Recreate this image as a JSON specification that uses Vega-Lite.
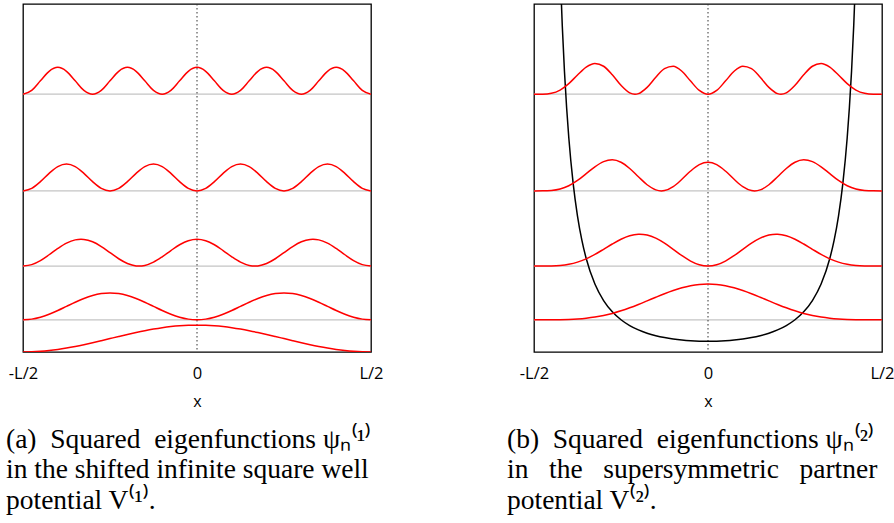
{
  "$schema": "https://vega.github.io/schema/vega-lite/v6.json",
  "background": "white",
  "padding": {"left": 5, "top": 2, "right": 0, "bottom": 0},
  "bounds": "flush",
  "spacing": 163,
  "config": {
    "view": {"stroke": "black", "strokeWidth": 1.3},
    "axis": {"labelFont": "Open Sans", "titleFont": "Open Sans", "labelColor": "black", "titleColor": "black"}
  },
  "datasets": {
    "levels": [{"e": 3}, {"e": 8}, {"e": 15}, {"e": 24}],
    "zero": [{"x0": 0}],
    "well": [
      {"x":-0.5,"y":0,"n":1},{"x":-0.475,"y":0.0154,"n":1},{"x":-0.45,"y":0.0612,"n":1},{"x":-0.425,"y":0.1362,"n":1},{"x":-0.4,"y":0.2387,"n":1},{"x":-0.375,"y":0.3661,"n":1},{"x":-0.35,"y":0.5153,"n":1},{"x":-0.325,"y":0.6825,"n":1},{"x":-0.3,"y":0.8637,"n":1},{"x":-0.275,"y":1.0545,"n":1},{"x":-0.25,"y":1.25,"n":1},{"x":-0.225,"y":1.4455,"n":1},{"x":-0.2,"y":1.6363,"n":1},{"x":-0.175,"y":1.8175,"n":1},{"x":-0.15,"y":1.9847,"n":1},{"x":-0.125,"y":2.1339,"n":1},{"x":-0.1,"y":2.2613,"n":1},{"x":-0.075,"y":2.3638,"n":1},{"x":-0.05,"y":2.4388,"n":1},{"x":-0.025,"y":2.4846,"n":1},{"x":0,"y":2.5,"n":1},
      {"x":0.025,"y":2.4846,"n":1},{"x":0.05,"y":2.4388,"n":1},{"x":0.075,"y":2.3638,"n":1},{"x":0.1,"y":2.2613,"n":1},{"x":0.125,"y":2.1339,"n":1},{"x":0.15,"y":1.9847,"n":1},{"x":0.175,"y":1.8175,"n":1},{"x":0.2,"y":1.6363,"n":1},{"x":0.225,"y":1.4455,"n":1},{"x":0.25,"y":1.25,"n":1},{"x":0.275,"y":1.0545,"n":1},{"x":0.3,"y":0.8637,"n":1},{"x":0.325,"y":0.6825,"n":1},{"x":0.35,"y":0.5153,"n":1},{"x":0.375,"y":0.3661,"n":1},{"x":0.4,"y":0.2387,"n":1},{"x":0.425,"y":0.1362,"n":1},{"x":0.45,"y":0.0612,"n":1},{"x":0.475,"y":0.0154,"n":1},{"x":0.5,"y":0,"n":1},

      {"x":-0.5,"y":3,"n":2},{"x":-0.475,"y":3.0612,"n":2},{"x":-0.45,"y":3.2387,"n":2},{"x":-0.425,"y":3.5153,"n":2},{"x":-0.4,"y":3.8637,"n":2},{"x":-0.375,"y":4.25,"n":2},{"x":-0.35,"y":4.6363,"n":2},{"x":-0.325,"y":4.9847,"n":2},{"x":-0.3,"y":5.2613,"n":2},{"x":-0.275,"y":5.4388,"n":2},{"x":-0.25,"y":5.5,"n":2},{"x":-0.225,"y":5.4388,"n":2},{"x":-0.2,"y":5.2613,"n":2},{"x":-0.175,"y":4.9847,"n":2},{"x":-0.15,"y":4.6363,"n":2},{"x":-0.125,"y":4.25,"n":2},{"x":-0.1,"y":3.8637,"n":2},{"x":-0.075,"y":3.5153,"n":2},{"x":-0.05,"y":3.2387,"n":2},{"x":-0.025,"y":3.0612,"n":2},{"x":0,"y":3,"n":2},
      {"x":0.025,"y":3.0612,"n":2},{"x":0.05,"y":3.2387,"n":2},{"x":0.075,"y":3.5153,"n":2},{"x":0.1,"y":3.8637,"n":2},{"x":0.125,"y":4.25,"n":2},{"x":0.15,"y":4.6363,"n":2},{"x":0.175,"y":4.9847,"n":2},{"x":0.2,"y":5.2613,"n":2},{"x":0.225,"y":5.4388,"n":2},{"x":0.25,"y":5.5,"n":2},{"x":0.275,"y":5.4388,"n":2},{"x":0.3,"y":5.2613,"n":2},{"x":0.325,"y":4.9847,"n":2},{"x":0.35,"y":4.6363,"n":2},{"x":0.375,"y":4.25,"n":2},{"x":0.4,"y":3.8637,"n":2},{"x":0.425,"y":3.5153,"n":2},{"x":0.45,"y":3.2387,"n":2},{"x":0.475,"y":3.0612,"n":2},{"x":0.5,"y":3,"n":2},

      {"x":-0.5,"y":8,"n":3},{"x":-0.475,"y":8.1362,"n":3},{"x":-0.45,"y":8.5153,"n":3},{"x":-0.425,"y":9.0545,"n":3},{"x":-0.4,"y":9.6363,"n":3},{"x":-0.375,"y":10.1339,"n":3},{"x":-0.35,"y":10.4388,"n":3},{"x":-0.33333,"y":10.5,"n":3},{"x":-0.325,"y":10.4846,"n":3},{"x":-0.3,"y":10.2613,"n":3},{"x":-0.275,"y":9.8175,"n":3},{"x":-0.25,"y":9.25,"n":3},{"x":-0.225,"y":8.6825,"n":3},{"x":-0.2,"y":8.2387,"n":3},{"x":-0.175,"y":8.0154,"n":3},{"x":-0.16667,"y":8,"n":3},{"x":-0.15,"y":8.0612,"n":3},{"x":-0.125,"y":8.3661,"n":3},{"x":-0.1,"y":8.8637,"n":3},{"x":-0.075,"y":9.4455,"n":3},{"x":-0.05,"y":9.9847,"n":3},{"x":-0.025,"y":10.3638,"n":3},{"x":0,"y":10.5,"n":3},
      {"x":0.025,"y":10.3638,"n":3},{"x":0.05,"y":9.9847,"n":3},{"x":0.075,"y":9.4455,"n":3},{"x":0.1,"y":8.8637,"n":3},{"x":0.125,"y":8.3661,"n":3},{"x":0.15,"y":8.0612,"n":3},{"x":0.16667,"y":8,"n":3},{"x":0.175,"y":8.0154,"n":3},{"x":0.2,"y":8.2387,"n":3},{"x":0.225,"y":8.6825,"n":3},{"x":0.25,"y":9.25,"n":3},{"x":0.275,"y":9.8175,"n":3},{"x":0.3,"y":10.2613,"n":3},{"x":0.325,"y":10.4846,"n":3},{"x":0.33333,"y":10.5,"n":3},{"x":0.35,"y":10.4388,"n":3},{"x":0.375,"y":10.1339,"n":3},{"x":0.4,"y":9.6363,"n":3},{"x":0.425,"y":9.0545,"n":3},{"x":0.45,"y":8.5153,"n":3},{"x":0.475,"y":8.1362,"n":3},{"x":0.5,"y":8,"n":3},

      {"x":-0.5,"y":15,"n":4},{"x":-0.475,"y":15.2387,"n":4},{"x":-0.45,"y":15.8637,"n":4},{"x":-0.425,"y":16.6363,"n":4},{"x":-0.4,"y":17.2613,"n":4},{"x":-0.375,"y":17.5,"n":4},{"x":-0.35,"y":17.2613,"n":4},{"x":-0.325,"y":16.6363,"n":4},{"x":-0.3,"y":15.8637,"n":4},{"x":-0.275,"y":15.2387,"n":4},{"x":-0.25,"y":15,"n":4},{"x":-0.225,"y":15.2387,"n":4},{"x":-0.2,"y":15.8637,"n":4},{"x":-0.175,"y":16.6363,"n":4},{"x":-0.15,"y":17.2613,"n":4},{"x":-0.125,"y":17.5,"n":4},{"x":-0.1,"y":17.2613,"n":4},{"x":-0.075,"y":16.6363,"n":4},{"x":-0.05,"y":15.8637,"n":4},{"x":-0.025,"y":15.2387,"n":4},{"x":0,"y":15,"n":4},
      {"x":0.025,"y":15.2387,"n":4},{"x":0.05,"y":15.8637,"n":4},{"x":0.075,"y":16.6363,"n":4},{"x":0.1,"y":17.2613,"n":4},{"x":0.125,"y":17.5,"n":4},{"x":0.15,"y":17.2613,"n":4},{"x":0.175,"y":16.6363,"n":4},{"x":0.2,"y":15.8637,"n":4},{"x":0.225,"y":15.2387,"n":4},{"x":0.25,"y":15,"n":4},{"x":0.275,"y":15.2387,"n":4},{"x":0.3,"y":15.8637,"n":4},{"x":0.325,"y":16.6363,"n":4},{"x":0.35,"y":17.2613,"n":4},{"x":0.375,"y":17.5,"n":4},{"x":0.4,"y":17.2613,"n":4},{"x":0.425,"y":16.6363,"n":4},{"x":0.45,"y":15.8637,"n":4},{"x":0.475,"y":15.2387,"n":4},{"x":0.5,"y":15,"n":4},

      {"x":-0.5,"y":24,"n":5},{"x":-0.475,"y":24.3661,"n":5},{"x":-0.45,"y":25.25,"n":5},{"x":-0.425,"y":26.1339,"n":5},{"x":-0.4,"y":26.5,"n":5},{"x":-0.375,"y":26.1339,"n":5},{"x":-0.35,"y":25.25,"n":5},{"x":-0.325,"y":24.3661,"n":5},{"x":-0.3,"y":24,"n":5},{"x":-0.275,"y":24.3661,"n":5},{"x":-0.25,"y":25.25,"n":5},{"x":-0.225,"y":26.1339,"n":5},{"x":-0.2,"y":26.5,"n":5},{"x":-0.175,"y":26.1339,"n":5},{"x":-0.15,"y":25.25,"n":5},{"x":-0.125,"y":24.3661,"n":5},{"x":-0.1,"y":24,"n":5},{"x":-0.075,"y":24.3661,"n":5},{"x":-0.05,"y":25.25,"n":5},{"x":-0.025,"y":26.1339,"n":5},{"x":0,"y":26.5,"n":5},
      {"x":0.025,"y":26.1339,"n":5},{"x":0.05,"y":25.25,"n":5},{"x":0.075,"y":24.3661,"n":5},{"x":0.1,"y":24,"n":5},{"x":0.125,"y":24.3661,"n":5},{"x":0.15,"y":25.25,"n":5},{"x":0.175,"y":26.1339,"n":5},{"x":0.2,"y":26.5,"n":5},{"x":0.225,"y":26.1339,"n":5},{"x":0.25,"y":25.25,"n":5},{"x":0.275,"y":24.3661,"n":5},{"x":0.3,"y":24,"n":5},{"x":0.325,"y":24.3661,"n":5},{"x":0.35,"y":25.25,"n":5},{"x":0.375,"y":26.1339,"n":5},{"x":0.4,"y":26.5,"n":5},{"x":0.425,"y":26.1339,"n":5},{"x":0.45,"y":25.25,"n":5},{"x":0.475,"y":24.3661,"n":5},{"x":0.5,"y":24,"n":5}
    ],
    "partner": [
      {"x":-0.5,"y":3,"n":1},{"x":-0.475,"y":3.0001,"n":1},{"x":-0.45,"y":3.002,"n":1},{"x":-0.425,"y":3.0099,"n":1},{"x":-0.4,"y":3.0304,"n":1},{"x":-0.375,"y":3.0715,"n":1},{"x":-0.35,"y":3.1416,"n":1},{"x":-0.325,"y":3.2484,"n":1},{"x":-0.3,"y":3.3979,"n":1},{"x":-0.275,"y":3.593,"n":1},{"x":-0.25,"y":3.8333,"n":1},{"x":-0.225,"y":4.1145,"n":1},{"x":-0.2,"y":4.4279,"n":1},{"x":-0.175,"y":4.7617,"n":1},{"x":-0.15,"y":5.1009,"n":1},{"x":-0.125,"y":5.4285,"n":1},{"x":-0.1,"y":5.7271,"n":1},{"x":-0.075,"y":5.9799,"n":1},{"x":-0.05,"y":6.1722,"n":1},{"x":-0.025,"y":6.2924,"n":1},{"x":0,"y":6.3333,"n":1},
      {"x":0.025,"y":6.2924,"n":1},{"x":0.05,"y":6.1722,"n":1},{"x":0.075,"y":5.9799,"n":1},{"x":0.1,"y":5.7271,"n":1},{"x":0.125,"y":5.4285,"n":1},{"x":0.15,"y":5.1009,"n":1},{"x":0.175,"y":4.7617,"n":1},{"x":0.2,"y":4.4279,"n":1},{"x":0.225,"y":4.1145,"n":1},{"x":0.25,"y":3.8333,"n":1},{"x":0.275,"y":3.593,"n":1},{"x":0.3,"y":3.3979,"n":1},{"x":0.325,"y":3.2484,"n":1},{"x":0.35,"y":3.1416,"n":1},{"x":0.375,"y":3.0715,"n":1},{"x":0.4,"y":3.0304,"n":1},{"x":0.425,"y":3.0099,"n":1},{"x":0.45,"y":3.002,"n":1},{"x":0.475,"y":3.0001,"n":1},{"x":0.5,"y":3,"n":1},

      {"x":-0.5,"y":8,"n":2},{"x":-0.475,"y":8.0008,"n":2},{"x":-0.45,"y":8.0117,"n":2},{"x":-0.425,"y":8.0562,"n":2},{"x":-0.4,"y":8.165,"n":2},{"x":-0.375,"y":8.3661,"n":2},{"x":-0.35,"y":8.6745,"n":2},{"x":-0.325,"y":9.0837,"n":2},{"x":-0.3,"y":9.5625,"n":2},{"x":-0.275,"y":10.0573,"n":2},{"x":-0.25,"y":10.5,"n":2},{"x":-0.225,"y":10.8203,"n":2},{"x":-0.2,"y":10.96,"n":2},{"x":-0.1959,"y":10.963,"n":2},{"x":-0.175,"y":10.8858,"n":2},{"x":-0.15,"y":10.5981,"n":2},{"x":-0.125,"y":10.1339,"n":2},{"x":-0.1,"y":9.5625,"n":2},{"x":-0.075,"y":8.9744,"n":2},{"x":-0.05,"y":8.4658,"n":2},{"x":-0.025,"y":8.1216,"n":2},{"x":0,"y":8,"n":2},
      {"x":0.025,"y":8.1216,"n":2},{"x":0.05,"y":8.4658,"n":2},{"x":0.075,"y":8.9744,"n":2},{"x":0.1,"y":9.5625,"n":2},{"x":0.125,"y":10.1339,"n":2},{"x":0.15,"y":10.5981,"n":2},{"x":0.175,"y":10.8858,"n":2},{"x":0.1959,"y":10.963,"n":2},{"x":0.2,"y":10.96,"n":2},{"x":0.225,"y":10.8203,"n":2},{"x":0.25,"y":10.5,"n":2},{"x":0.275,"y":10.0573,"n":2},{"x":0.3,"y":9.5625,"n":2},{"x":0.325,"y":9.0837,"n":2},{"x":0.35,"y":8.6745,"n":2},{"x":0.375,"y":8.3661,"n":2},{"x":0.4,"y":8.165,"n":2},{"x":0.425,"y":8.0562,"n":2},{"x":0.45,"y":8.0117,"n":2},{"x":0.475,"y":8.0008,"n":2},{"x":0.5,"y":8,"n":2},

      {"x":-0.5,"y":15,"n":3},{"x":-0.475,"y":15.0025,"n":3},{"x":-0.45,"y":15.0376,"n":3},{"x":-0.425,"y":15.1729,"n":3},{"x":-0.4,"y":15.4766,"n":3},{"x":-0.375,"y":15.9714,"n":3},{"x":-0.35,"y":16.6044,"n":3},{"x":-0.325,"y":17.2465,"n":3},{"x":-0.3,"y":17.7271,"n":3},{"x":-0.275,"y":17.8926,"n":3},{"x":-0.25,"y":17.6667,"n":3},{"x":-0.225,"y":17.089,"n":3},{"x":-0.2,"y":16.3151,"n":3},{"x":-0.175,"y":15.5737,"n":3},{"x":-0.15,"y":15.0941,"n":3},{"x":-0.13386,"y":15,"n":3},{"x":-0.125,"y":15.0286,"n":3},{"x":-0.1,"y":15.3979,"n":3},{"x":-0.075,"y":16.0798,"n":3},{"x":-0.05,"y":16.8472,"n":3},{"x":-0.025,"y":17.443,"n":3},{"x":0,"y":17.6667,"n":3},
      {"x":0.025,"y":17.443,"n":3},{"x":0.05,"y":16.8472,"n":3},{"x":0.075,"y":16.0798,"n":3},{"x":0.1,"y":15.3979,"n":3},{"x":0.125,"y":15.0286,"n":3},{"x":0.13386,"y":15,"n":3},{"x":0.15,"y":15.0941,"n":3},{"x":0.175,"y":15.5737,"n":3},{"x":0.2,"y":16.3151,"n":3},{"x":0.225,"y":17.089,"n":3},{"x":0.25,"y":17.6667,"n":3},{"x":0.275,"y":17.8926,"n":3},{"x":0.3,"y":17.7271,"n":3},{"x":0.325,"y":17.2465,"n":3},{"x":0.35,"y":16.6044,"n":3},{"x":0.375,"y":15.9714,"n":3},{"x":0.4,"y":15.4766,"n":3},{"x":0.425,"y":15.1729,"n":3},{"x":0.45,"y":15.0376,"n":3},{"x":0.475,"y":15.0025,"n":3},{"x":0.5,"y":15,"n":3},

      {"x":-0.5,"y":24,"n":4},{"x":-0.475,"y":24.0062,"n":4},{"x":-0.45,"y":24.0899,"n":4},{"x":-0.425,"y":24.39,"n":4},{"x":-0.4,"y":24.9867,"n":4},{"x":-0.375,"y":25.7887,"n":4},{"x":-0.35,"y":26.5249,"n":4},{"x":-0.325,"y":26.8644,"n":4},{"x":-0.3,"y":26.6042,"n":4},{"x":-0.275,"y":25.8125,"n":4},{"x":-0.25,"y":24.8333,"n":4},{"x":-0.225,"y":24.1317,"n":4},{"x":-0.20978,"y":24,"n":4},{"x":-0.2,"y":24.055,"n":4},{"x":-0.175,"y":24.6404,"n":4},{"x":-0.15,"y":25.581,"n":4},{"x":-0.125,"y":26.378,"n":4},{"x":-0.1,"y":26.6042,"n":4},{"x":-0.075,"y":26.1353,"n":4},{"x":-0.05,"y":25.2209,"n":4},{"x":-0.025,"y":24.3529,"n":4},{"x":0,"y":24,"n":4},
      {"x":0.025,"y":24.3529,"n":4},{"x":0.05,"y":25.2209,"n":4},{"x":0.075,"y":26.1353,"n":4},{"x":0.1,"y":26.6042,"n":4},{"x":0.125,"y":26.378,"n":4},{"x":0.15,"y":25.581,"n":4},{"x":0.175,"y":24.6404,"n":4},{"x":0.2,"y":24.055,"n":4},{"x":0.20978,"y":24,"n":4},{"x":0.225,"y":24.1317,"n":4},{"x":0.25,"y":24.8333,"n":4},{"x":0.275,"y":25.8125,"n":4},{"x":0.3,"y":26.6042,"n":4},{"x":0.325,"y":26.8644,"n":4},{"x":0.35,"y":26.5249,"n":4},{"x":0.375,"y":25.7887,"n":4},{"x":0.4,"y":24.9867,"n":4},{"x":0.425,"y":24.39,"n":4},{"x":0.45,"y":24.0899,"n":4},{"x":0.475,"y":24.0062,"n":4},{"x":0.5,"y":24,"n":4}
    ],
    "pot": [
      {"x":-0.425,"v":35.6993},{"x":-0.41875,"v":30.372},{"x":-0.4125,"v":26.144},{"x":-0.40625,"v":22.7352},{"x":-0.4,"v":19.9442},{"x":-0.3875,"v":15.6946},{"x":-0.375,"v":12.6568},{"x":-0.3625,"v":10.4106},{"x":-0.35,"v":8.7037},{"x":-0.325,"v":6.3259},{"x":-0.3,"v":4.7888},{"x":-0.275,"v":3.7418},{"x":-0.25,"v":3},{"x":-0.225,"v":2.4589},{"x":-0.2,"v":2.0557},{"x":-0.175,"v":1.751},{"x":-0.15,"v":1.5192},{"x":-0.125,"v":1.3431},{"x":-0.1,"v":1.2111},{"x":-0.075,"v":1.1153},{"x":-0.05,"v":1.0502},{"x":-0.025,"v":1.0124},{"x":0,"v":1},
      {"x":0.025,"v":1.0124},{"x":0.05,"v":1.0502},{"x":0.075,"v":1.1153},{"x":0.1,"v":1.2111},{"x":0.125,"v":1.3431},{"x":0.15,"v":1.5192},{"x":0.175,"v":1.751},{"x":0.2,"v":2.0557},{"x":0.225,"v":2.4589},{"x":0.25,"v":3},{"x":0.275,"v":3.7418},{"x":0.3,"v":4.7888},{"x":0.325,"v":6.3259},{"x":0.35,"v":8.7037},{"x":0.3625,"v":10.4106},{"x":0.375,"v":12.6568},{"x":0.3875,"v":15.6946},{"x":0.4,"v":19.9442},{"x":0.40625,"v":22.7352},{"x":0.4125,"v":26.144},{"x":0.41875,"v":30.372},{"x":0.425,"v":35.6993}
    ]
  },
  "hconcat": [
    {
      "width": 348,
      "height": 348,
      "title": {
        "text": ["(a)\u00a0\u00a0Squared\u00a0\u00a0eigenfunctions ψₙ⁽¹⁾", "in the shifted infinite square well", "potential V⁽¹⁾."],
        "orient": "bottom", "anchor": "start", "frame": "group", "dx": -17,
        "offset": 16, "font": "Liberation Serif", "fontSize": 27.5, "fontWeight": "normal",
        "lineHeight": 30.5, "color": "black"
      },
      "layer": [
        {
          "data": {"name": "levels"},
          "mark": {"type": "rule", "color": "#c4c4c4", "strokeWidth": 1.3},
          "encoding": {
            "y": {"field": "e", "type": "quantitative", "scale": {"domain": [0, 32.4], "nice": false, "zero": false}, "axis": null}
          }
        },
        {
          "data": {"name": "zero"},
          "mark": {"type": "rule", "color": "#333333", "strokeWidth": 1, "strokeDash": [1.5, 2.5]},
          "encoding": {
            "x": {"field": "x0", "type": "quantitative", "scale": {"domain": [-0.5, 0.5], "nice": false, "zero": false}}
          }
        },
        {
          "data": {"name": "well"},
          "mark": {"type": "line", "color": "#ff0000", "strokeWidth": 1.5, "interpolate": "monotone", "clip": true},
          "encoding": {
            "x": {"field": "x", "type": "quantitative", "scale": {"domain": [-0.5, 0.5], "nice": false, "zero": false},
              "axis": {"values": [-0.5, 0, 0.5], "labelExpr": "datum.value == 0 ? '0' : (datum.value < 0 ? '-L/2' : 'L/2')", "labelFlush": false, "labelFontSize": 16.5, "labelPadding": 13, "ticks": false, "grid": false, "domain": false, "title": "x", "titleFontSize": 16, "titleFontWeight": "normal", "titlePadding": 12}},
            "y": {"field": "y", "type": "quantitative", "scale": {"domain": [0, 32.4], "nice": false, "zero": false}, "axis": null},
            "detail": {"field": "n", "type": "nominal"}
          }
        }
      ]
    },
    {
      "width": 348,
      "height": 348,
      "title": {
        "text": ["(b)\u00a0\u00a0Squared\u00a0\u00a0eigenfunctions ψₙ⁽²⁾", "in\u00a0\u00a0\u00a0the\u00a0\u00a0\u00a0supersymmetric\u00a0\u00a0\u00a0partner", "potential V⁽²⁾."],
        "orient": "bottom", "anchor": "start", "frame": "group", "dx": -27,
        "offset": 16, "font": "Liberation Serif", "fontSize": 27.5, "fontWeight": "normal",
        "lineHeight": 30.5, "color": "black"
      },
      "layer": [
        {
          "data": {"name": "levels"},
          "mark": {"type": "rule", "color": "#c4c4c4", "strokeWidth": 1.3},
          "encoding": {
            "y": {"field": "e", "type": "quantitative", "scale": {"domain": [0, 32.4], "nice": false, "zero": false}, "axis": null}
          }
        },
        {
          "data": {"name": "zero"},
          "mark": {"type": "rule", "color": "#333333", "strokeWidth": 1, "strokeDash": [1.5, 2.5]},
          "encoding": {
            "x": {"field": "x0", "type": "quantitative", "scale": {"domain": [-0.5, 0.5], "nice": false, "zero": false}}
          }
        },
        {
          "data": {"name": "pot"},
          "mark": {"type": "line", "color": "black", "strokeWidth": 1.5, "interpolate": "monotone", "clip": true},
          "encoding": {
            "x": {"field": "x", "type": "quantitative", "scale": {"domain": [-0.5, 0.5], "nice": false, "zero": false}},
            "y": {"field": "v", "type": "quantitative", "scale": {"domain": [0, 32.4], "nice": false, "zero": false}, "axis": null}
          }
        },
        {
          "data": {"name": "partner"},
          "mark": {"type": "line", "color": "#ff0000", "strokeWidth": 1.5, "interpolate": "monotone", "clip": true},
          "encoding": {
            "x": {"field": "x", "type": "quantitative", "scale": {"domain": [-0.5, 0.5], "nice": false, "zero": false},
              "axis": {"values": [-0.5, 0, 0.5], "labelExpr": "datum.value == 0 ? '0' : (datum.value < 0 ? '-L/2' : 'L/2')", "labelFlush": false, "labelFontSize": 16.5, "labelPadding": 13, "ticks": false, "grid": false, "domain": false, "title": "x", "titleFontSize": 16, "titleFontWeight": "normal", "titlePadding": 12}},
            "y": {"field": "y", "type": "quantitative", "scale": {"domain": [0, 32.4], "nice": false, "zero": false}, "axis": null},
            "detail": {"field": "n", "type": "nominal"}
          }
        }
      ]
    }
  ]
}
